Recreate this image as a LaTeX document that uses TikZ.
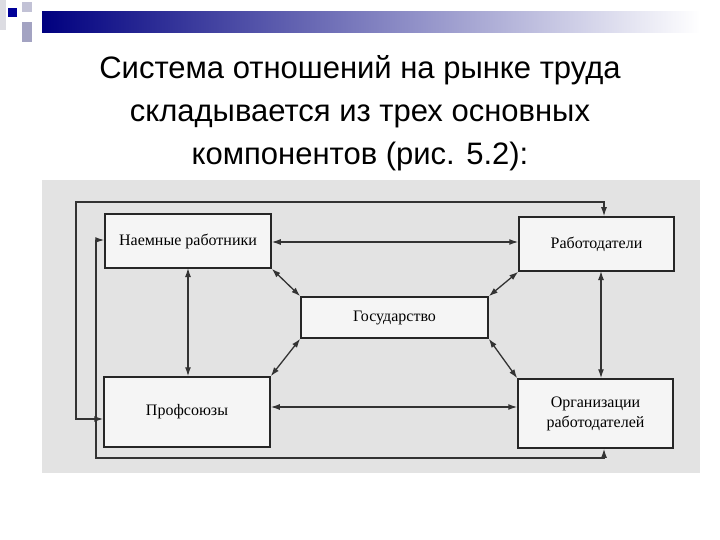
\documentclass[tikz,border=0pt]{standalone}
\usepackage{fontspec}
\setmainfont{Liberation Serif}
\newfontfamily\titlefont{Liberation Sans}
\usetikzlibrary{arrows.meta}
\begin{document}
\begin{tikzpicture}[x=1pt,y=-1pt,
  box/.style={draw=black!85,line width=1.5pt,fill=white!92!gray,font=\fontsize{16}{18}\selectfont,align=center,inner sep=0pt},
  conn/.style={draw=black!80,line width=1.3pt,{Latex[length=9pt,width=6pt]}-{Latex[length=9pt,width=6pt]}}]
\useasboundingbox (0,0) rectangle (720,540);
\fill[white] (0,0) rectangle (720,540);
% header bar
\shade[left color=blue!50!black,right color=white] (42,12) rectangle (700,33);
\fill[blue!60!black] (8,8) rectangle (17,17);
\fill[blue!20!gray!40] (22,2) rectangle (32,12);
\fill[blue!20!gray!60] (22,22) rectangle (32,42);
\fill[blue!10!gray!25] (0,0) rectangle (6,30);
% title
\node[font=\titlefont\fontsize{31}{43}\selectfont,align=center] (title) at (360,113)
 {Система отношений на рынке труда\\складывается из трех основных\\компонентов (рис. 5.2):};
% scanned background
\fill[gray!22] (42,180) rectangle (700,473);
\node[box,minimum width=166pt,minimum height=54pt] (nr) at (188,241) {Наемные работники};
\node[box,minimum width=155pt,minimum height=54pt] (rd) at (596.5,244) {Работодатели};
\node[box,minimum width=187pt,minimum height=41pt] (gos) at (394.5,317.5) {Государство};
\node[box,minimum width=166pt,minimum height=70pt] (pf) at (187,412) {Профсоюзы};
\node[box,minimum width=155pt,minimum height=69pt,font=\fontsize{16}{20}\selectfont] (org) at (595.5,413.5) {Организации\\работодателей};
\draw[conn] (nr.east |- 0,242) -- (rd.west |- 0,242);
\draw[conn] (pf.east |- 0,407) -- (org.west |- 0,407);
\draw[conn] (188,268) -- (pf.north -| 188,0);
\draw[conn] (601,271) -- (org.north -| 601,0);
\draw[conn] (nr.south east) -- (gos.north west);
\draw[conn] (rd.south west) -- (gos.north east);
\draw[conn] (pf.north east) -- (gos.south west);
\draw[conn] (org.north west) -- (gos.south east);
\coordinate (a1) at (76,419); \coordinate (a2) at (76,202); \coordinate (a3) at (604,202);
\draw[conn] (pf.west |- a1) -- (a1) -- (a2) -- (a3) -- (rd.north -| a3);
\coordinate (b1) at (96,240); \coordinate (b2) at (96,458); \coordinate (b3) at (604,458);
\draw[conn] (nr.west |- b1) -- (b1) -- (b2) -- (b3) -- (org.south -| b3);
\end{tikzpicture}
\end{document}
